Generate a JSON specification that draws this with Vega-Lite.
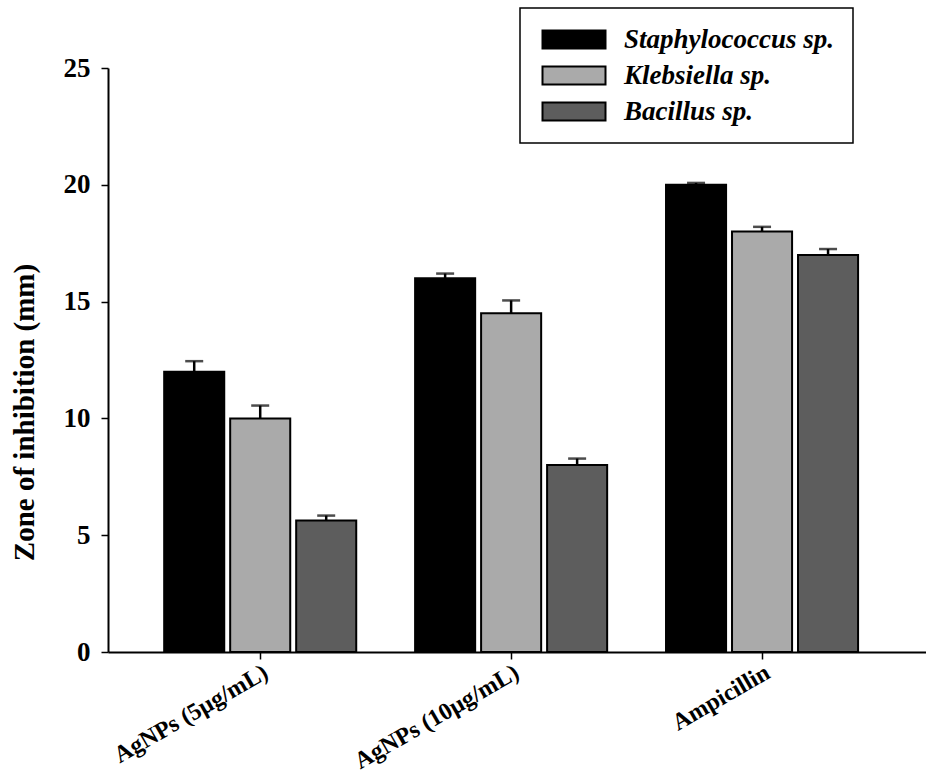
{
  "$schema": "https://vega.github.io/schema/vega-lite/v6.json",
  "width": 818,
  "height": 584,
  "autosize": {"type": "none"},
  "padding": {"left": 108, "top": 68, "right": 0, "bottom": 125},
  "background": "white",
  "config": {
    "view": {"stroke": null},
    "font": "Liberation Serif",
    "axis": {"grid": false, "domainColor": "black", "domainWidth": 2, "tickColor": "black", "tickWidth": 1.5, "tickSize": 7,
             "labelFont": "Liberation Serif", "labelFontWeight": "bold", "labelColor": "black",
             "titleFont": "Liberation Serif", "titleFontWeight": "bold", "titleColor": "black"}
  },
  "data": {"values": [
    {"treatment": "AgNPs (5µg/mL)", "species": "Staphylococcus sp.", "zone": 12.0, "upper": 12.45},
    {"treatment": "AgNPs (5µg/mL)", "species": "Klebsiella sp.", "zone": 10.0, "upper": 10.55},
    {"treatment": "AgNPs (5µg/mL)", "species": "Bacillus sp.", "zone": 5.63, "upper": 5.84},
    {"treatment": "AgNPs (10µg/mL)", "species": "Staphylococcus sp.", "zone": 16.0, "upper": 16.2},
    {"treatment": "AgNPs (10µg/mL)", "species": "Klebsiella sp.", "zone": 14.5, "upper": 15.05},
    {"treatment": "AgNPs (10µg/mL)", "species": "Bacillus sp.", "zone": 8.0, "upper": 8.28},
    {"treatment": "Ampicillin", "species": "Staphylococcus sp.", "zone": 20.0, "upper": 20.08},
    {"treatment": "Ampicillin", "species": "Klebsiella sp.", "zone": 18.0, "upper": 18.2},
    {"treatment": "Ampicillin", "species": "Bacillus sp.", "zone": 17.0, "upper": 17.25}
  ]},
  "encoding": {
    "x": {"field": "treatment", "type": "nominal", "sort": null,
          "scale": {"paddingInner": 0, "paddingOuter": 0.13, "align": 0.41},
          "axis": {"title": null, "labelAngle": -30, "labelAlign": "right", "labelBaseline": "top", "labelFontSize": 24, "labelPadding": 1, "labelLimit": 400, "labelOverlap": false, "domainWidth": 2}},
    "xOffset": {"field": "species", "type": "nominal", "sort": ["Staphylococcus sp.", "Klebsiella sp.", "Bacillus sp."],
                "scale": {"paddingInner": 0.09, "paddingOuter": 0.446}}
  },
  "layer": [
    {
      "mark": {"type": "rule", "color": "black", "strokeWidth": 2.5},
      "encoding": {
        "y": {"field": "zone", "type": "quantitative"},
        "y2": {"field": "upper"}
      }
    },
    {
      "mark": {"type": "tick", "color": "black", "thickness": 2.5, "size": 18},
      "encoding": {
        "y": {"field": "upper", "type": "quantitative"}
      }
    },
    {
      "mark": {"type": "bar", "stroke": "black", "strokeWidth": 2},
      "encoding": {
        "y": {"field": "zone", "type": "quantitative",
              "scale": {"domain": [0, 25], "nice": false},
              "axis": {"title": "Zone of inhibition (mm)", "titleFontSize": 29, "titleAngle": -90, "titleAlign": "center", "titleBaseline": "middle", "titleX": -84, "titleY": 344,
                       "values": [0, 5, 10, 15, 20, 25], "labelFontSize": 27, "labelPadding": 11, "tickSize": 7}},
        "color": {"field": "species", "type": "nominal",
                  "scale": {"domain": ["Staphylococcus sp.", "Klebsiella sp.", "Bacillus sp."], "range": ["#000000", "#aaaaaa", "#5d5d5d"]},
                  "legend": {"title": null, "orient": "none", "legendX": 412, "legendY": -60,
                             "strokeColor": "black", "padding": 18,
                             "symbolType": "M-1,-1H6V1H-1Z", "symbolSize": 324,
                             "symbolStrokeColor": "black", "symbolStrokeWidth": 2, "symbolOpacity": 1,
                             "labelFont": "Liberation Serif", "labelFontSize": 27, "labelFontWeight": "bold", "labelFontStyle": "italic",
                             "labelColor": "black", "labelOffset": 59, "rowPadding": 8, "labelLimit": 400,
                             "encode": {"legend": {"update": {"strokeWidth": {"value": 1.5}}}}}}
      }
    }
  ]
}
